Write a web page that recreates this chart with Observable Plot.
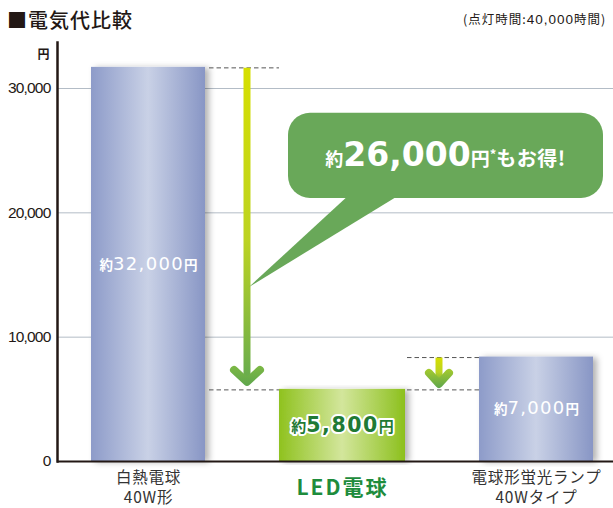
<!DOCTYPE html>
<html><head><meta charset="utf-8">
<script src="https://cdn.jsdelivr.net/npm/d3@7"></script>
<script src="https://cdn.jsdelivr.net/npm/@observablehq/plot@0.6"></script>
<style>
body{margin:0;background:#fff;width:613px;height:508px;overflow:hidden;font-family:"Noto Sans CJK JP",sans-serif;}
#head{position:relative;height:36px;}
#title{position:absolute;left:7px;top:10px;font-size:20px;font-weight:500;color:#231815;letter-spacing:1px;line-height:1;white-space:nowrap;}
#note{position:absolute;left:463px;top:13px;font-size:12.5px;color:#231815;white-space:nowrap;line-height:1;letter-spacing:1px;}
#note .num{font-family:"Liberation Sans",Arial,sans-serif;font-size:13.5px;}
#chart svg{display:block;overflow:visible;}
</style></head><body>
<div id="head"><div id="title"></div><div id="note"></div></div>
<div id="chart"></div>
<script>
// ---- data ----
const titleText = "■電気代比較";
const noteParts = ["(点灯時間:", "40,000", "時間)"];
const categories = ["白熱電球\n40W形", "LED電球", "電球形蛍光ランプ\n40Wタイプ"];
const costs = [31700, 5800, 8400];
const costLabels = ["約32,000円", "約5,800円", "約7,000円"];
const yTicks = [0, 10000, 20000, 30000];
const unitLabel = "円";
const savingsParts = ["約", "26,000", "円", "*", "もお得!"];

document.getElementById("title").textContent = titleText;
const note = document.getElementById("note");
note.append(noteParts[0]);
const ns = document.createElement("span"); ns.className = "num"; ns.textContent = noteParts[1]; note.append(ns);
note.append(noteParts[2]);

const data = categories.map((c, i) => ({category: c, cost: costs[i], label: costLabels[i]}));
const led = data.filter((d, i) => i === 1);
const others = data.filter((d, i) => i !== 1);

const chart = Plot.plot({
  width: 613, height: 472,
  marginTop: 6, marginBottom: 47, marginLeft: 57, marginRight: 0,
  x: {domain: categories, range: [50, 634], padding: 0, axis: null},
  y: {domain: [0, 33700], axis: null},
  style: {fontFamily: '"Noto Sans CJK JP", sans-serif', background: "transparent", overflow: "visible"},
  marks: [
    Plot.gridY(yTicks.filter(d => d > 0), {stroke: "#b3bcc6", strokeOpacity: 1, strokeWidth: 1}),
    Plot.axisY(yTicks, {tickSize: 0, tickPadding: 7, tickFormat: d3.format(","), label: null, fontSize: 15.5, fill: "#231815"}),
    Plot.barY(others, {x: "category", y: "cost", insetLeft: 40, insetRight: 40, fill: "url(#barBlue)"}),
    Plot.barY(led, {x: "category", y: "cost", insetLeft: 34, insetRight: 34, fill: "url(#barGreen)"}),
    Plot.ruleY([0], {stroke: "#231815", strokeWidth: 2}),
    Plot.frame({anchor: "left", stroke: "#231815", strokeWidth: 2.5}),
    Plot.text([unitLabel], {frameAnchor: "top-left", dx: -8, dy: 8, textAnchor: "end", fontSize: 12, fontWeight: "bold", fill: "#231815"}),
    Plot.text(others, {x: "category", y: d => d.cost / 2, text: "label", fill: "white", fontSize: 16}),
    Plot.text(led, {x: "category", y: d => d.cost / 2, text: "label", fill: "#1f7a35", stroke: "white", strokeWidth: 4, fontSize: 20, fontWeight: "bold"}),
    Plot.text(others, {x: "category", y: 0, text: "category", lineAnchor: "top", dy: 7, fontSize: 15.5, fill: "#333", lineHeight: 1.3}),
    Plot.text(led, {x: "category", y: 0, text: "category", lineAnchor: "middle", dy: 27, fontSize: 21, fontWeight: "bold", fill: "#1e8c3c"})
  ]
});
document.getElementById("chart").append(chart);

// ---- post-processing / annotations ----
const svg = d3.select(chart);
const defs = svg.insert("defs", ":first-child");
function hgrad(id, stops) {
  const g = defs.append("linearGradient").attr("id", id).attr("x1", 0).attr("x2", 1).attr("y1", 0).attr("y2", 0);
  stops.forEach(([o, c]) => g.append("stop").attr("offset", o).attr("stop-color", c));
}
hgrad("barBlue", [[0, "#8d9bc9"], [0.5, "#c9d1e6"], [1, "#8896c5"]]);
hgrad("barGreen", [[0, "#8fc21f"], [0.5, "#d3e69c"], [1, "#8cc01d"]]);
const f = defs.append("filter").attr("id", "shadow").attr("x", "-10%").attr("y", "-5%").attr("width", "130%").attr("height", "110%");
f.append("feDropShadow").attr("dx", 4).attr("dy", 1).attr("stdDeviation", 3).attr("flood-color", "#000").attr("flood-opacity", 0.3);
svg.selectAll('g[aria-label="bar"] rect').attr("filter", "url(#shadow)");

svg.selectAll('g[aria-label="y-axis tick label"]').attr("font-family", '"Liberation Sans", Arial, sans-serif').attr("letter-spacing", "-0.8");

// category label spacing
svg.selectAll("text").filter(function () { return this.textContent === categories[1]; }).attr("letter-spacing", 2);
svg.selectAll("text").filter(function () { return this.textContent.startsWith("白熱") || this.textContent.startsWith("電球形"); }).attr("letter-spacing", 0.8);

// rich labels on bars
svg.selectAll("text").each(function () {
  const t = this.textContent;
  const m = /^約([\d,]+)円$/.exec(t);
  if (!m) return;
  const isLed = this.closest("g").getAttribute("font-weight") === "bold";
  const s = d3.select(this).text(null);
  const small = isLed ? 15 : 13.5, big = isLed ? 20.5 : 18;
  s.append("tspan").attr("font-size", small).attr("font-weight", "bold").text("約");
  s.append("tspan").attr("font-size", big).attr("font-family", '"DejaVu Sans", sans-serif')
    .attr("font-weight", isLed ? "bold" : "normal").attr("letter-spacing", isLed ? 1.5 : 1.3).text(m[1]);
  s.append("tspan").attr("font-size", small).attr("font-weight", "bold").text("円");
});

const xS = chart.scale("x"), yS = chart.scale("y");
const fx = xS.apply ? (v => xS.apply(v)) : d3.scaleBand(xS.domain, xS.range).padding(0);
const fy = yS.apply ? (v => yS.apply(v)) : d3.scaleLinear(yS.domain, yS.range);
const bw = xS.bandwidth;
const b1R = fx(categories[0]) + bw - 40, ledL = fx(categories[1]) + 34,
      ledR = fx(categories[1]) + bw - 34, b3L = fx(categories[2]) + 40;
const y0 = fy(costs[0]), y1 = fy(costs[1]), y2 = fy(costs[2]);

const ann = svg.append("g").attr("class", "annotations");
const dash = (xa, xb, y) => ann.append("line").attr("x1", xa).attr("x2", xb).attr("y1", y + 1).attr("y2", y + 1)
  .attr("stroke", "#555").attr("stroke-width", 1).attr("stroke-dasharray", "4.5 3");
dash(b1R + 4, ledL, y0);
dash(b1R + 4, ledL, y1);
dash(ledR + 2, b3L, y1);
dash(ledR + 2, b3L, y2);

function vgrad(id, ya, yb, stops) {
  const g = defs.append("linearGradient").attr("id", id).attr("gradientUnits", "userSpaceOnUse")
    .attr("x1", 0).attr("x2", 0).attr("y1", ya).attr("y2", yb);
  stops.forEach(([o, c]) => g.append("stop").attr("offset", o).attr("stop-color", c));
}
function arrow(id, x, ytop, yv, hw, hh, headStops) {
  vgrad(id, ytop, yv, [[0, "#d6df00"], [0.55, "#bcd322"], [1, "#66ab4f"]]);
  vgrad(id + "h", yv - hh - 4, yv + 4, headStops);
  ann.append("line").attr("x1", x).attr("x2", x).attr("y1", ytop).attr("y2", yv)
    .attr("stroke", `url(#${id})`).attr("stroke-width", 7);
  ann.append("path").attr("d", `M${x - hw},${yv - hh}L${x},${yv}L${x + hw},${yv - hh}`)
    .attr("fill", "none").attr("stroke", `url(#${id}h)`).attr("stroke-width", 8)
    .attr("stroke-linecap", "round").attr("stroke-linejoin", "round");
}
const ax1 = fx(categories[1]) + 2, ax2 = fx(categories[2]);
arrow("arrBig", ax1, y0 + 1, y1 - 7, 13, 12, [[0, "#7cb844"], [1, "#5fa64d"]]);
arrow("arrSmall", ax2, y2 + 1, y1 - 5, 10, 11, [[0, "#a6cb2c"], [1, "#5fa64d"]]);

// speech bubble
const bL = ledL + 9, bR = 603, bT = fy(28000), bB = fy(21150);
const bubbleFill = "#69a859";
ann.append("path").attr("d", `M${bL + 62},${bB - 4}L${ax1 + 2},${fy(14000)}L${bL + 113},${bB - 4}Z`).attr("fill", bubbleFill);
ann.append("rect").attr("x", bL).attr("y", bT).attr("width", bR - bL).attr("height", bB - bT).attr("rx", 22).attr("fill", bubbleFill);
const bt = ann.append("text").attr("x", (bL + bR) / 2).attr("y", (bT + bB) / 2 + 11)
  .attr("text-anchor", "middle").attr("fill", "white").attr("font-weight", "bold")
  .attr("font-family", '"Noto Sans CJK JP", sans-serif');
bt.append("tspan").attr("font-size", 18).text(savingsParts[0]);
bt.append("tspan").attr("font-size", 33).attr("font-family", '"DejaVu Sans", sans-serif').text(savingsParts[1]);
bt.append("tspan").attr("font-size", 19).text(savingsParts[2]);
bt.append("tspan").attr("font-size", 13).attr("dy", -7).text(savingsParts[3]);
bt.append("tspan").attr("font-size", 20).attr("dy", 7).attr("letter-spacing", 0.5).text(savingsParts[4]);
</script>
</body></html>
